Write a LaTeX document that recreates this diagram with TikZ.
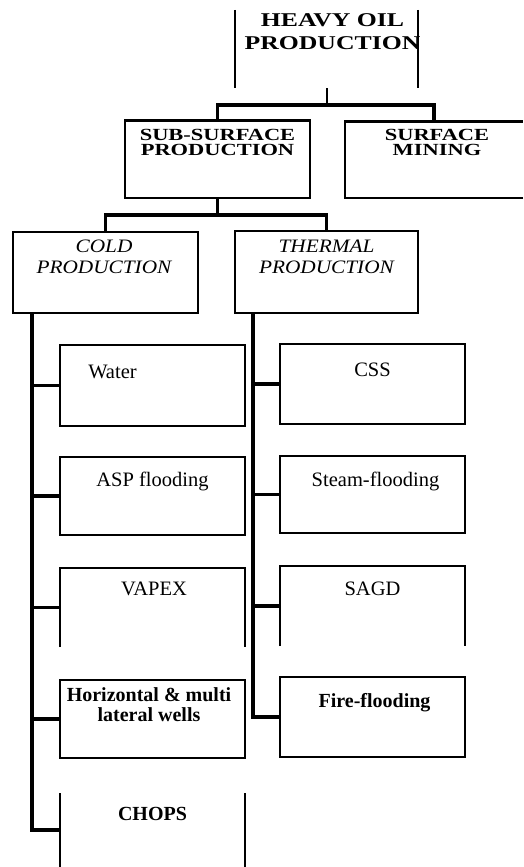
\documentclass[tikz,border=0pt]{standalone}
\usepackage{fontspec}
\setmainfont{Liberation Serif}
\newfontfamily\widefont[FakeStretch=1.32]{Liberation Serif}
\newfontfamily\slantfont[FakeStretch=1.12]{Liberation Serif}
\usetikzlibrary{calc}

\tikzset{
	box/.style = {minimum width=185pt, inner sep=0pt, outer sep=0pt},
	frame/.style = {draw, line width=1.2pt},
	caption/.style = {anchor=north, inner sep=0pt, align=center},
	conn/.style = {line width=3.2pt},
	headtxt/.style = {font=\widefont\bfseries\fontsize{19.5}{23}\selectfont},
	subtxt/.style = {font=\widefont\bfseries\fontsize{17}{15.5}\selectfont},
	italtxt/.style = {font=\slantfont\itshape\fontsize{19}{21}\selectfont},
	plaintxt/.style = {font=\fontsize{20.5}{20}\selectfont},
	boldtxt/.style = {font=\bfseries\fontsize{20}{20}\selectfont},
}

\begin{document}
\begin{tikzpicture}[x=1pt, y=-1pt]
			\def\colL{152.5};
			\def\colR{372.5};

			\useasboundingbox (0,0) rectangle (523,867);

			% top levels
			\node [box, minimum width=183pt, minimum height=78pt,
				label={[caption, headtxt, xshift=6pt, yshift=-3pt]north:HEAVY OIL\\PRODUCTION}] (heavy) at (326.5,49) {};
			\node [box, frame, minimum height=78pt,
				label={[caption, subtxt, yshift=-9pt]north:SUB-SURFACE\\PRODUCTION}] (subsurf) at (217.5,159) {};
			\node [box, minimum width=178pt, minimum height=77pt,
				label={[caption, subtxt, xshift=3pt, yshift=-8pt]north:SURFACE\\MINING}] (surfmin) at (434,159.5) {};
			\node [box, frame, minimum height=81pt,
				label={[caption, italtxt, xshift=-1.5pt, yshift=-8pt]north:COLD\\PRODUCTION}] (cold) at (105.5,272.5) {};
			\node [box, frame, minimum width=183pt, minimum height=82pt,
				label={[caption, italtxt, yshift=-9pt]north:THERMAL\\PRODUCTION}] (thermal) at (326.5,272) {};

			% cold methods
			\node [box, frame, minimum height=81pt,
				label={[caption, plaintxt, xshift=-40pt, yshift=-20pt]north:Water}] (water) at (\colL,385.5) {};
			\node [box, frame, minimum height=78pt,
				label={[caption, plaintxt, yshift=-15pt]north:ASP flooding}] (asp) at (\colL,496) {};
			\node [box, minimum height=79pt,
				label={[caption, plaintxt, xshift=1.5pt, yshift=-14pt]north:VAPEX}] (vapex) at (\colL,607.5) {};
			\node [box, frame, minimum height=78pt,
				label={[caption, boldtxt, xshift=-3.5pt, yshift=-7pt]north:Horizontal \& multi\\lateral wells}] (horiz) at (\colL,719) {};
			\node [box, minimum height=74pt,
				label={[caption, boldtxt, yshift=-14pt]north:CHOPS}] (chops) at (\colL,830) {};

			% thermal methods
			\node [box, frame, minimum height=80pt,
				label={[caption, plaintxt, yshift=-19pt]north:CSS}] (css) at (\colR,384) {};
			\node [box, frame, minimum height=77pt,
				label={[caption, plaintxt, xshift=3pt, yshift=-16pt]north:Steam-flooding}] (steam) at (\colR,494.5) {};
			\node [box, minimum height=80pt,
				label={[caption, plaintxt, yshift=-16pt]north:SAGD}] (sagd) at (\colR,606) {};
			\node [box, frame, minimum height=80pt,
				label={[caption, boldtxt, xshift=2pt, yshift=-16pt]north:Fire-flooding}] (fire) at (\colR,717) {};

			% open frames
			\begin{scope}[line width=1.2pt]
				\draw (heavy.north west) -- (heavy.south west);
				\draw (heavy.north east) -- (heavy.south east);
				\draw (chops.north west) -- (chops.south west);
				\draw (chops.north east) -- (chops.south east);
				\draw (surfmin.south east) -- (surfmin.south west) -- (surfmin.north west) -- (surfmin.north east);
				\foreach \b in {vapex,sagd}
				{
					\draw (\b.south west) -- (\b.north west) -- (\b.north east) -- (\b.south east);
				}
			\end{scope}
			\draw [line width=3pt] (subsurf.north west) -- (subsurf.north east);
			\draw [line width=3pt] (surfmin.north west) -- (surfmin.north east);

			% connectors
			\begin{scope}[conn]
				\draw [line width=2pt] (heavy.south) -- ++(0,17) coordinate (topbar);
				\draw (subsurf.north) |- (topbar) -| (surfmin.north);
				\draw (subsurf.south) -- ++(0,17) coordinate (midbar);
				\draw (cold.north) |- (midbar) -| (thermal.north);

				\coordinate (coldtrunk) at ($(cold.south west)+(19,0)$);
				\coordinate (hottrunk) at ($(thermal.south west)+(18,0)$);

				\draw (coldtrunk) |- (chops.west);
				\foreach \b in {water,asp,vapex,horiz}
				{
					\draw (coldtrunk |- \b.west) -- (\b.west);
				}
				\draw [line width=4pt] (hottrunk) |- (fire.west);
				\foreach \b in {css,steam,sagd}
				{
					\draw (hottrunk |- \b.west) -- (\b.west);
				}
			\end{scope}
		\end{tikzpicture}
\end{document}
